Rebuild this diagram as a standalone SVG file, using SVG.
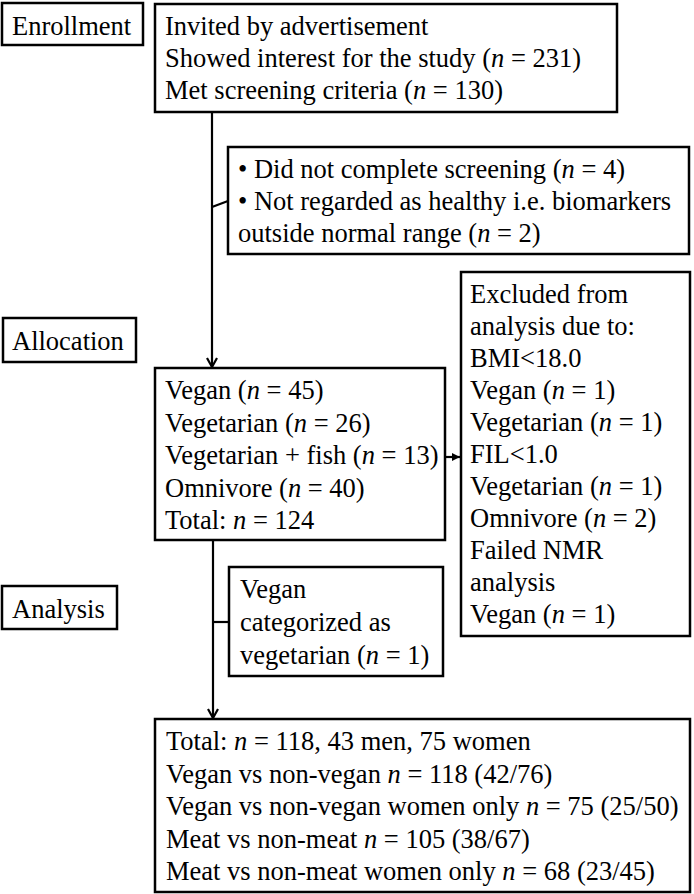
<svg xmlns="http://www.w3.org/2000/svg" width="694" height="894" viewBox="0 0 694 894">
<style>
rect{fill:#fff;stroke:#000;stroke-width:2.5}
text{font-family:"Liberation Serif","Times New Roman",serif;font-size:26.5px;fill:#000}
.i{font-style:italic}
.c{stroke:#000;stroke-width:2.2;fill:none}
</style>
<defs>
<marker id="ad" markerWidth="12" markerHeight="12" refX="6" refY="10" orient="0" markerUnits="userSpaceOnUse" viewBox="0 0 12 12">
<path d="M1,1 L6,10 L11,1" fill="none" stroke="#000" stroke-width="2.2"/>
</marker>
<marker id="ar" markerWidth="10" markerHeight="10" refX="9" refY="5" orient="auto" markerUnits="userSpaceOnUse" viewBox="0 0 10 10">
<path d="M1,1 L9,5 L1,9 Z" fill="#000"/>
</marker>
</defs>
<g id="connectors">
<line class="c" x1="212" y1="112" x2="212" y2="367" marker-end="url(#ad)"/>
<line class="c" x1="212" y1="207" x2="228" y2="201"/>
<line class="c" x1="445" y1="457" x2="460" y2="457" marker-end="url(#ar)"/>
<line class="c" x1="213" y1="540" x2="213" y2="718" marker-end="url(#ad)"/>
<line class="c" x1="213" y1="622" x2="229" y2="622"/>
</g>
<g id="enrollment"><rect x="2" y="3" width="141" height="42"/><text x="12" y="35">Enrollment</text></g>
<g id="allocation"><rect x="3" y="318" width="133" height="44"/><text x="12" y="350">Allocation</text></g>
<g id="analysis"><rect x="2" y="586" width="115" height="43"/><text x="12" y="618">Analysis</text></g>
<g id="invited"><rect x="155" y="4" width="462" height="108"/>
<text x="165" y="35">Invited by advertisement</text>
<text x="165" y="67">Showed interest for the study (<tspan class="i">n</tspan> = 231)</text>
<text x="165" y="99">Met screening criteria (<tspan class="i">n</tspan> = 130)</text></g>
<g id="screening-excluded"><rect x="228" y="147" width="461" height="107"/>
<text x="238" y="178">• Did not complete screening (<tspan class="i">n</tspan> = 4)</text>
<text x="238" y="210">• Not regarded as healthy i.e. biomarkers</text>
<text x="238" y="242">outside normal range (<tspan class="i">n</tspan> = 2)</text></g>
<g id="groups"><rect x="155" y="368" width="290" height="172"/>
<text x="165" y="399">Vegan (<tspan class="i">n</tspan> = 45)</text>
<text x="165" y="431.5">Vegetarian (<tspan class="i">n</tspan> = 26)</text>
<text x="165" y="464">Vegetarian + fish (<tspan class="i">n</tspan> = 13)</text>
<text x="165" y="496.5">Omnivore (<tspan class="i">n</tspan> = 40)</text>
<text x="165" y="529">Total: <tspan class="i">n</tspan> = 124</text></g>
<g id="analysis-excluded"><rect x="461" y="272" width="229" height="364"/>
<text x="470" y="303">Excluded from</text>
<text x="470" y="335">analysis due to:</text>
<text x="470" y="367">BMI&lt;18.0</text>
<text x="470" y="399">Vegan (<tspan class="i">n</tspan> = 1)</text>
<text x="470" y="431">Vegetarian (<tspan class="i">n</tspan> = 1)</text>
<text x="470" y="463">FIL&lt;1.0</text>
<text x="470" y="495">Vegetarian (<tspan class="i">n</tspan> = 1)</text>
<text x="470" y="527">Omnivore (<tspan class="i">n</tspan> = 2)</text>
<text x="470" y="559">Failed NMR</text>
<text x="470" y="591">analysis</text>
<text x="470" y="623">Vegan (<tspan class="i">n</tspan> = 1)</text></g>
<g id="recategorized"><rect x="229" y="567" width="214" height="109"/>
<text x="240" y="598">Vegan</text>
<text x="240" y="631">categorized as</text>
<text x="240" y="664">vegetarian (<tspan class="i">n</tspan> = 1)</text></g>
<g id="final"><rect x="155" y="719" width="535" height="173"/>
<text x="166" y="750">Total: <tspan class="i">n</tspan> = 118, 43 men, 75 women</text>
<text x="166" y="782.5">Vegan vs non-vegan <tspan class="i">n</tspan> = 118 (42/76)</text>
<text x="166" y="815">Vegan vs non-vegan women only <tspan class="i">n</tspan> = 75 (25/50)</text>
<text x="166" y="847.5">Meat vs non-meat <tspan class="i">n</tspan> = 105 (38/67)</text>
<text x="166" y="880">Meat vs non-meat women only <tspan class="i">n</tspan> = 68 (23/45)</text></g>
</svg>
